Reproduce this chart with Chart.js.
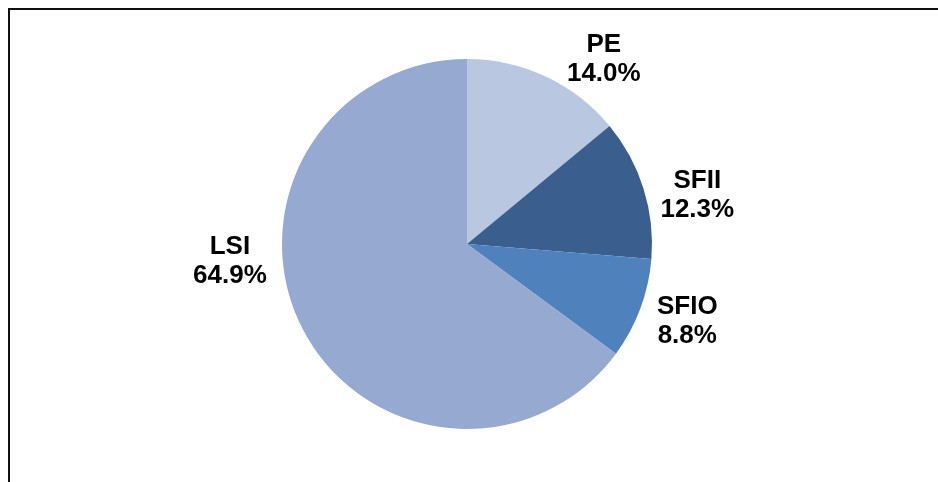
<!DOCTYPE html>
<html>
<head>
<meta charset="utf-8">
<script src="https://cdn.jsdelivr.net/npm/chart.js@4"></script>
<style>
  body { margin: 0; background: #fff; }
  canvas { display: block; }
</style>
</head>
<body>
<canvas id="pieChart" width="938" height="482"></canvas>
<script>
var labels = ["PE", "SFII", "SFIO", "LSI"];
var shares = [14.0, 12.3, 8.8, 64.9];
var sliceColors = ["#b9c7e1", "#3a5f8e", "#4f81bd", "#95a9d1"];

// nudges applied to the label after placing it out from the slice middle
var labelNudge = [[38, 25], [9, 20], [3, -4], [-30, -88]];

var frame = {
  id: "frame",
  beforeDraw: function (chart) {
    var ctx = chart.ctx;
    ctx.save();
    ctx.fillStyle = "#fff";
    ctx.fillRect(0, 0, chart.width, chart.height);
    ctx.strokeStyle = "#111";
    ctx.lineWidth = 2;
    ctx.strokeRect(9, 9, chart.width + 20, chart.height + 20);
    ctx.restore();
  }
};

var sliceLabels = {
  id: "sliceLabels",
  afterDatasetsDraw: function (chart) {
    var ctx = chart.ctx;
    var meta = chart.getDatasetMeta(0);
    ctx.save();
    ctx.font = "bold 26px 'Liberation Sans', Arial, sans-serif";
    ctx.fillStyle = "#000";
    ctx.textAlign = "center";
    ctx.textBaseline = "middle";
    meta.data.forEach(function (arc, i) {
      var p = arc.getProps(["x", "y", "startAngle", "endAngle", "outerRadius"], true);
      var mid = (p.startAngle + p.endAngle) / 2;
      var dist = p.outerRadius + 47;
      var x = p.x + Math.cos(mid) * dist + labelNudge[i][0];
      var y = p.y + Math.sin(mid) * dist + labelNudge[i][1];
      ctx.fillText(labels[i], x, y - 14);
      ctx.fillText(shares[i].toFixed(1) + "%", x, y + 15);
    });
    ctx.restore();
  }
};

new Chart("pieChart", {
  type: "pie",
  data: {
    labels: labels,
    datasets: [{
      data: shares,
      backgroundColor: sliceColors,
      borderWidth: 0
    }]
  },
  options: {
    responsive: false,
    animation: false,
    layout: {
      padding: { left: 282, right: 286, top: 59, bottom: 53 }
    },
    plugins: {
      legend: { display: false },
      tooltip: { enabled: false }
    }
  },
  plugins: [frame, sliceLabels]
});
</script>
</body>
</html>
